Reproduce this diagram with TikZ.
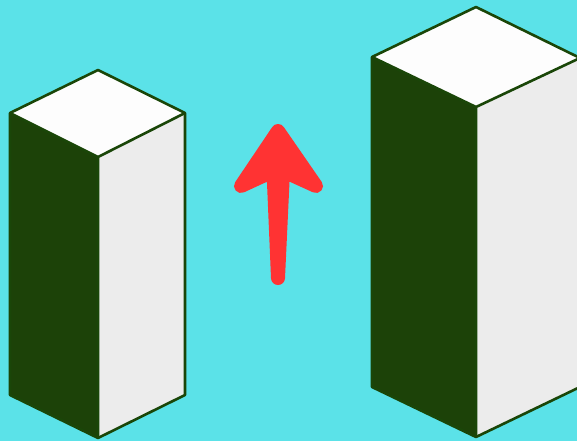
\documentclass[tikz,border=0pt]{standalone}
\definecolor{bgc}{RGB}{91,226,232}
\definecolor{darkf}{RGB}{28,66,8}
\definecolor{edgec}{RGB}{26,70,8}
\definecolor{sidef}{RGB}{236,236,236}
\definecolor{topf}{RGB}{253,253,253}
\definecolor{arrowc}{RGB}{255,51,51}
\tikzset{
  faceedge/.style={draw=edgec,line width=2.6pt,line join=round},
  arrowshape/.style={fill=arrowc,draw=arrowc,line width=14pt,line join=round}
}
\begin{document}
\begin{tikzpicture}[x=1pt,y=-1pt]
\useasboundingbox (0,0) rectangle (577,441);
\clip (0,0) rectangle (577,441);
\fill[bgc] (0,0) rectangle (577,441);
% small box
\coordinate (at) at (98,70);
\coordinate (al) at (10,113);
\coordinate (ar) at (185,113);
\coordinate (ac) at (98,157);
\coordinate (abl) at (10,395);
\coordinate (abc) at (98,438);
\coordinate (abr) at (185,395);
\fill[darkf] (al) -- (ac) -- (abc) -- (abl) -- cycle;
\fill[sidef] (ac) -- (ar) -- (abr) -- (abc) -- cycle;
\fill[topf] (at) -- (ar) -- (ac) -- (al) -- cycle;
\draw[faceedge] (al) -- (at) -- (ar) -- (abr) -- (abc) -- (abl) -- cycle;
\draw[faceedge] (al) -- (ac) -- (ar) (ac) -- (abc);
% large box
\coordinate (bt) at (476,7);
\coordinate (bl) at (372,57);
\coordinate (br) at (580,58);
\coordinate (bc) at (476,107);
\coordinate (bbl) at (372,387);
\coordinate (bbc) at (476,437);
\coordinate (bbr) at (580,387);
\fill[darkf] (bl) -- (bc) -- (bbc) -- (bbl) -- cycle;
\fill[sidef] (bc) -- (br) -- (bbr) -- (bbc) -- cycle;
\fill[topf] (bt) -- (br) -- (bc) -- (bl) -- cycle;
\draw[faceedge] (bl) -- (bt) -- (br) -- (bbr) -- (bbc) -- (bbl) -- cycle;
\draw[faceedge] (bl) -- (bc) -- (br) (bc) -- (bbc);
% arrow
\coordinate (tip) at (278,131);
\coordinate (hl) at (241,186);
\coordinate (hr) at (316,186);
\coordinate (nl) at (273.5,171);
\coordinate (nr) at (283,171);
\coordinate (sb) at (278,278);
\filldraw[arrowshape] (tip) -- (hr) -- (nr) -- (sb) -- (nl) -- (hl) -- cycle;
\end{tikzpicture}
\end{document}
